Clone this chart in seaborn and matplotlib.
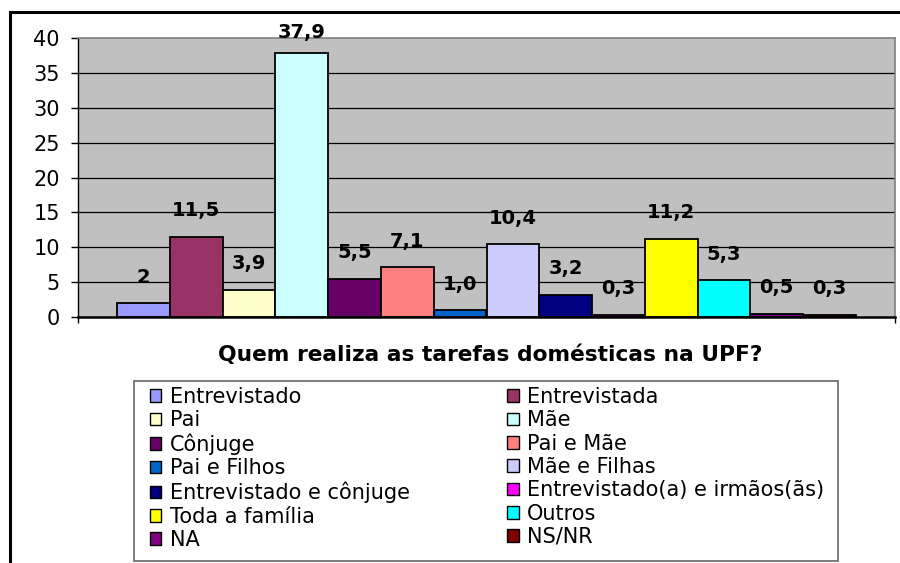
import matplotlib
matplotlib.use("Agg")
import matplotlib.pyplot as plt
import matplotlib.patches as mpatches
import seaborn as sns
import pandas as pd

categories = ["Entrevistado", "Entrevistada", "Pai", "Mãe", "Cônjuge", "Pai e Mãe",
              "Pai e Filhos", "Mãe e Filhas", "Entrevistado e cônjuge",
              "Entrevistado(a) e irmãos(ãs)", "Toda a família", "Outros", "NA", "NS/NR"]
values = [2, 11.5, 3.9, 37.9, 5.5, 7.1, 1.0, 10.4, 3.2, 0.3, 11.2, 5.3, 0.5, 0.3]
value_labels = ["2", "11,5", "3,9", "37,9", "5,5", "7,1", "1,0", "10,4", "3,2",
                "0,3", "11,2", "5,3", "0,5", "0,3"]
colors = ["#9999FF", "#993366", "#FFFFCC", "#CCFFFF", "#660066", "#FF8080",
          "#0066CC", "#CCCCFF", "#000080", "#FF00FF", "#FFFF00", "#00FFFF",
          "#800080", "#800000"]
yticks = [0, 5, 10, 15, 20, 25, 30, 35, 40]
title = "Quem realiza as tarefas domésticas na UPF?"

sns.set_theme(style="white")
plt.rcParams['font.family'] = ['DejaVu Sans']
plt.rcParams['text.color'] = 'black'
plt.rcParams['xtick.color'] = 'black'
plt.rcParams['ytick.color'] = 'black'
plt.rcParams['axes.labelcolor'] = 'black'

W, H = 900, 563
fig = plt.figure(figsize=(9, 5.63), dpi=100)
fig.patch.set_facecolor("white")

ax_l, ax_t, ax_r, ax_b = 78, 38, 895, 317
ax = fig.add_axes([ax_l / W, 1 - ax_b / H, (ax_r - ax_l) / W, (ax_b - ax_t) / H])
ax.set_facecolor("#C0C0C0")

df = pd.DataFrame({"cat": categories, "val": values})
sns.barplot(data=df, x="cat", y="val", hue="cat", palette=colors, dodge=False,
            saturation=1, width=1.0, edgecolor="black", linewidth=1.3,
            legend=False, ax=ax, zorder=3)

ax.set_ylim(0, 40)
ax.set_xlim(-1.24, 14.24)
for t in yticks[1:-1]:
    ax.axhline(t, color="black", lw=0.9, zorder=1)

ax.set_yticks(yticks)
ax.set_yticklabels([str(t) for t in yticks], fontsize=15, color="black")
ax.set_xticks([-1.24, 14.24])
ax.set_xticklabels(["", ""])
ax.tick_params(axis="y", direction="out", length=5, width=1, color="black", pad=8, left=True)
ax.tick_params(axis="x", direction="out", length=4, width=1, color="black", bottom=True)
ax.set_xlabel("")
ax.set_ylabel("")
for s in ["top", "right"]:
    ax.spines[s].set_color("#808080")
    ax.spines[s].set_linewidth(1.2)
for s in ["left", "bottom"]:
    ax.spines[s].set_color("black")
    ax.spines[s].set_linewidth(1.0)
ax.spines["bottom"].set_linewidth(1.8)
ax.spines["bottom"].set_zorder(5)

# value labels
px_per_unit = (ax_b - ax_t) / 40.0
for i, (v, lab) in enumerate(zip(values, value_labels)):
    off_px = 26
    top_px = ax_b - v * px_per_unit
    if top_px - off_px < ax_t - 5:
        off_px = top_px - (ax_t - 5)
    ax.annotate(lab, xy=(i, v), xytext=(0, off_px * 0.72), textcoords="offset points",
                ha="center", va="center", fontsize=14, fontweight="bold",
                color="black", annotation_clip=False, zorder=6)

fig.text(490 / W, 1 - 355 / H, title, ha="center", va="center",
         fontsize=15.7, fontweight="bold", color="black")

# legend frame
frame = mpatches.Rectangle((134 / W, 1 - 561 / H), (838 - 134) / W, (561 - 381) / H,
                           transform=fig.transFigure, fill=False, edgecolor="#666666",
                           linewidth=1.2)
fig.add_artist(frame)

# legend (row-major order as in reference)
handles = [mpatches.Patch(facecolor=c, edgecolor="black", linewidth=1) for c in colors]
order = list(range(0, 14, 2)) + list(range(1, 14, 2))
leg = fig.legend([handles[i] for i in order], [categories[i] for i in order],
                 ncol=2, loc="upper left",
                 bbox_to_anchor=(150 / W, 1 - 387 / H, (824 - 150) / W, 0.0001),
                 mode="expand", fontsize=15, frameon=False,
                 handlelength=0.55, handleheight=0.55, handletextpad=0.4,
                 labelspacing=0.16, borderpad=0.0, borderaxespad=0,
                 columnspacing=1.0)
for txt in leg.get_texts():
    txt.set_color("black")

# outer chart border
border = mpatches.Rectangle((10 / W, -0.1), 1.2, 1 - 12 / H + 0.1, transform=fig.transFigure,
                            fill=False, edgecolor="black", linewidth=2.2, clip_on=False)
fig.add_artist(border)

fig.savefig("out.png", dpi=100)
